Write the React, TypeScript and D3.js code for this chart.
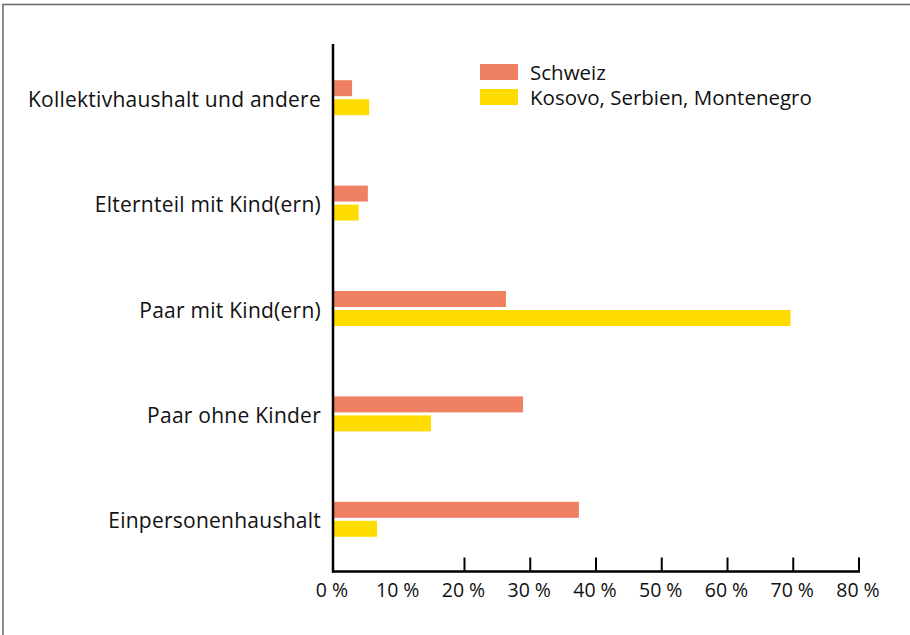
import React from "react";
import * as d3 from "d3";

const categories = [
  "Kollektivhaushalt und andere",
  "Elternteil mit Kind(ern)",
  "Paar mit Kind(ern)",
  "Paar ohne Kinder",
  "Einpersonenhaushalt",
];
const seriesNames = ["Schweiz", "Kosovo, Serbien, Montenegro"];
const schweiz = [2.9, 5.3, 26.3, 28.9, 37.4];
const kosovo = [5.5, 3.9, 69.6, 14.9, 6.7];
const tickValues = [0, 10, 20, 30, 40, 50, 60, 70, 80];
const tickMarkValues = [20, 30, 40, 50, 60, 70, 80];
const colors = ["#F08062", "#FFDC00"];

const FONT = "'Open Sans', sans-serif";

export default function App() {
  const W = 910;
  const H = 635;
  const x = d3.scaleLinear().domain([0, 80]).range([333, 859]);
  const y = d3.scaleBand<string>().domain(categories).range([45, 572]);
  const barH = 16;
  const gap = 3;
  const series = [schweiz, kosovo];
  const axisY = 571.5;

  return (
    <svg
      width={W}
      height={H}
      style={{ position: "fixed", left: 0, top: 0, background: "#fff" }}
      fontFamily={FONT}
    >
      <rect x={0} y={0} width={W} height={H} fill="#fff" />
      <rect x={3} y={4.5} width={W + 20} height={H + 20} fill="none" stroke="#666" strokeWidth={1.5} />

      {categories.map((c, i) => {
        const cy = (y(c) as number) + y.bandwidth() / 2;
        return (
          <g key={c}>
            {series.map((s, k) => {
              const top = k === 0 ? cy - gap / 2 - barH : cy + gap / 2;
              return (
                <rect
                  key={k}
                  x={x(0)}
                  y={top}
                  width={x(s[i]) - x(0)}
                  height={barH}
                  fill={colors[k]}
                />
              );
            })}
            <text x={321} y={cy + 9} textAnchor="end" fontSize={21} letterSpacing={0.25} fill="#111">
              {c}
            </text>
          </g>
        );
      })}

      {/* axes */}
      <line x1={333} x2={333} y1={44} y2={axisY + 1} stroke="#000" strokeWidth={2.5} />
      <line x1={332} x2={x(80) + 1} y1={axisY} y2={axisY} stroke="#000" strokeWidth={2.5} />
      {tickMarkValues.map((t) => (
        <line key={t} x1={x(t)} x2={x(t)} y1={axisY} y2={axisY - 14} stroke="#000" strokeWidth={2} />
      ))}
      {tickValues.map((t) => (
        <text key={t} x={x(t) - 1} y={597} textAnchor="middle" fontSize={19.5} fill="#111">
          {`${t} %`}
        </text>
      ))}

      {/* legend */}
      {seriesNames.map((n, k) => (
        <g key={n}>
          <rect x={480} y={64 + k * 25} width={38} height={16} fill={colors[k]} />
          <text x={530} y={80 + k * 24.5} fontSize={20.5} fill="#111">
            {n}
          </text>
        </g>
      ))}
    </svg>
  );
}
